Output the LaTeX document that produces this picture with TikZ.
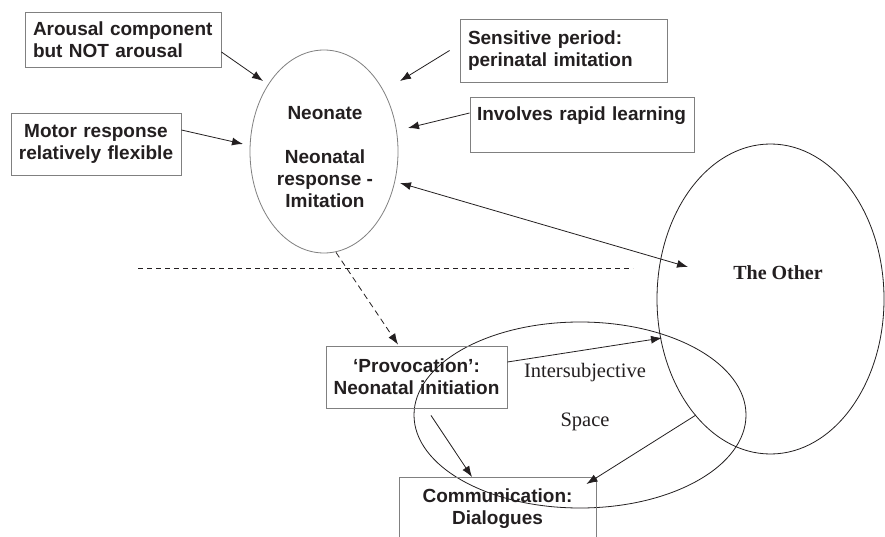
\documentclass[tikz,border=0pt]{standalone}
\usepackage{fontspec}
\setmainfont{Liberation Serif}
\setsansfont{Liberation Sans}
\usetikzlibrary{arrows.meta,shapes.geometric}
\definecolor{boxgray}{HTML}{808080}
\definecolor{ink}{HTML}{231F20}
\begin{document}
\begin{tikzpicture}[x=1pt,y=1pt,
  boxstyle/.style={draw=boxgray, line width=0.9pt, text=ink, inner ysep=0pt, inner xsep=8pt,
    font=\fontsize{19}{22}\selectfont\sffamily\bfseries},
  sanstext/.style={text=ink, inner sep=0pt, align=center, font=\fontsize{19}{22}\selectfont\sffamily\bfseries},
  seriftext/.style={text=ink, inner sep=0pt, font=\fontsize{20.5}{24}\selectfont},
  arr/.style={-{Latex[length=11pt,width=8pt]}, line width=0.8pt, draw=ink},
  dblarr/.style={{Latex[length=11pt,width=8pt]}-{Latex[length=11pt,width=8pt]}, line width=0.8pt, draw=ink},
  dasharr/.style={-{Latex[length=11pt,width=8pt]}, line width=0.8pt, draw=ink, dash pattern=on 6pt off 4pt},
  dashline/.style={line width=0.8pt, draw=ink, dash pattern=on 5pt off 4pt},
  oval/.style={ellipse, draw=ink, line width=0.8pt, inner sep=0pt}
]
\useasboundingbox (0,0) rectangle (885,536);
\fill[white] (0,0) rectangle (885,536);

% ellipses
\node[oval, draw=boxgray, minimum width=148, minimum height=203] (neo) at (324,384.5) {};
\node[oval, minimum width=227, minimum height=310] (other) at (770.5,237) {};
\node[oval, minimum width=332, minimum height=186] (space) at (580,121) {};

% ellipse texts
\node[sanstext] (neotext) at (325,379) {Neonate\\[22pt]Neonatal\\response -\\Imitation};
\node[seriftext, font=\fontsize{20}{24}\selectfont\bfseries] (othertext) at (778,263) {The Other};
\node[seriftext] (inter) at (585,163) {Intersubjective};
\node[seriftext] (spacetext) at (585,114) {Space};

% boxes
\node[boxstyle, text width=180pt, align=left, minimum height=55pt] (arousal) at (123,496.5)
  {Arousal component\\but NOT arousal};
\node[boxstyle, inner xsep=3pt, text width=164pt, align=center, minimum height=62pt] (motor) at (96,392)
  {Motor response\\relatively flexible};
\node[boxstyle, text width=191pt, align=left, minimum height=63pt] (sens) at (563.5,485.5)
  {Sensitive period:\\perinatal imitation};
\node[boxstyle, inner xsep=7pt, text width=210pt, align=left, minimum height=55pt] (rapid) at (582,411.5)
  {Involves rapid learning\\\mbox{}};
\node[boxstyle, inner xsep=5pt, text width=171pt, align=center, minimum height=62pt] (prov) at (416.5,159)
  {‘Provocation’:\\Neonatal initiation};
\node[boxstyle, anchor=north, text width=181pt, align=center, minimum height=102pt] (comm) at (497.5,59)
  {Communication:\\Dialogues\\\mbox{}\\\mbox{}};

% free ends
\coordinate (t1) at (263,455);
\coordinate (t2) at (243,392);
\coordinate (t3) at (400,455);
\coordinate (t4) at (408,408);
\coordinate (d1) at (400,353);
\coordinate (d2) at (688,269);
\coordinate (t8) at (662,198);
\coordinate (s10) at (696,121);
\coordinate (dl1) at (138,268);
\coordinate (dl2) at (633,268);

% connectors
\draw[arr] ([yshift=-12.5pt]arousal.east) -- (t1);
\draw[arr] ([yshift=14pt]motor.east) -- (t2);
\draw[arr] ([xshift=-10pt]sens.west) -- (t3);
\draw[arr] ([yshift=11.5pt]rapid.west) -- (t4);
\draw[dblarr] (d1) -- (d2);
\draw[dashline] (dl1) -- (dl2);
\draw[dasharr] ([xshift=12pt,yshift=1pt]neo.south) -- ([xshift=-18.5pt,yshift=1pt]prov.north);
\draw[arr] ([yshift=15pt]prov.east) -- (t8);
\draw[arr] ([xshift=14.5pt,yshift=-7pt]prov.south) -- ([xshift=-25.5pt]comm.north);
\draw[arr] (s10) -- ([xshift=-10pt,yshift=-7pt]comm.north east);
\end{tikzpicture}
\end{document}
